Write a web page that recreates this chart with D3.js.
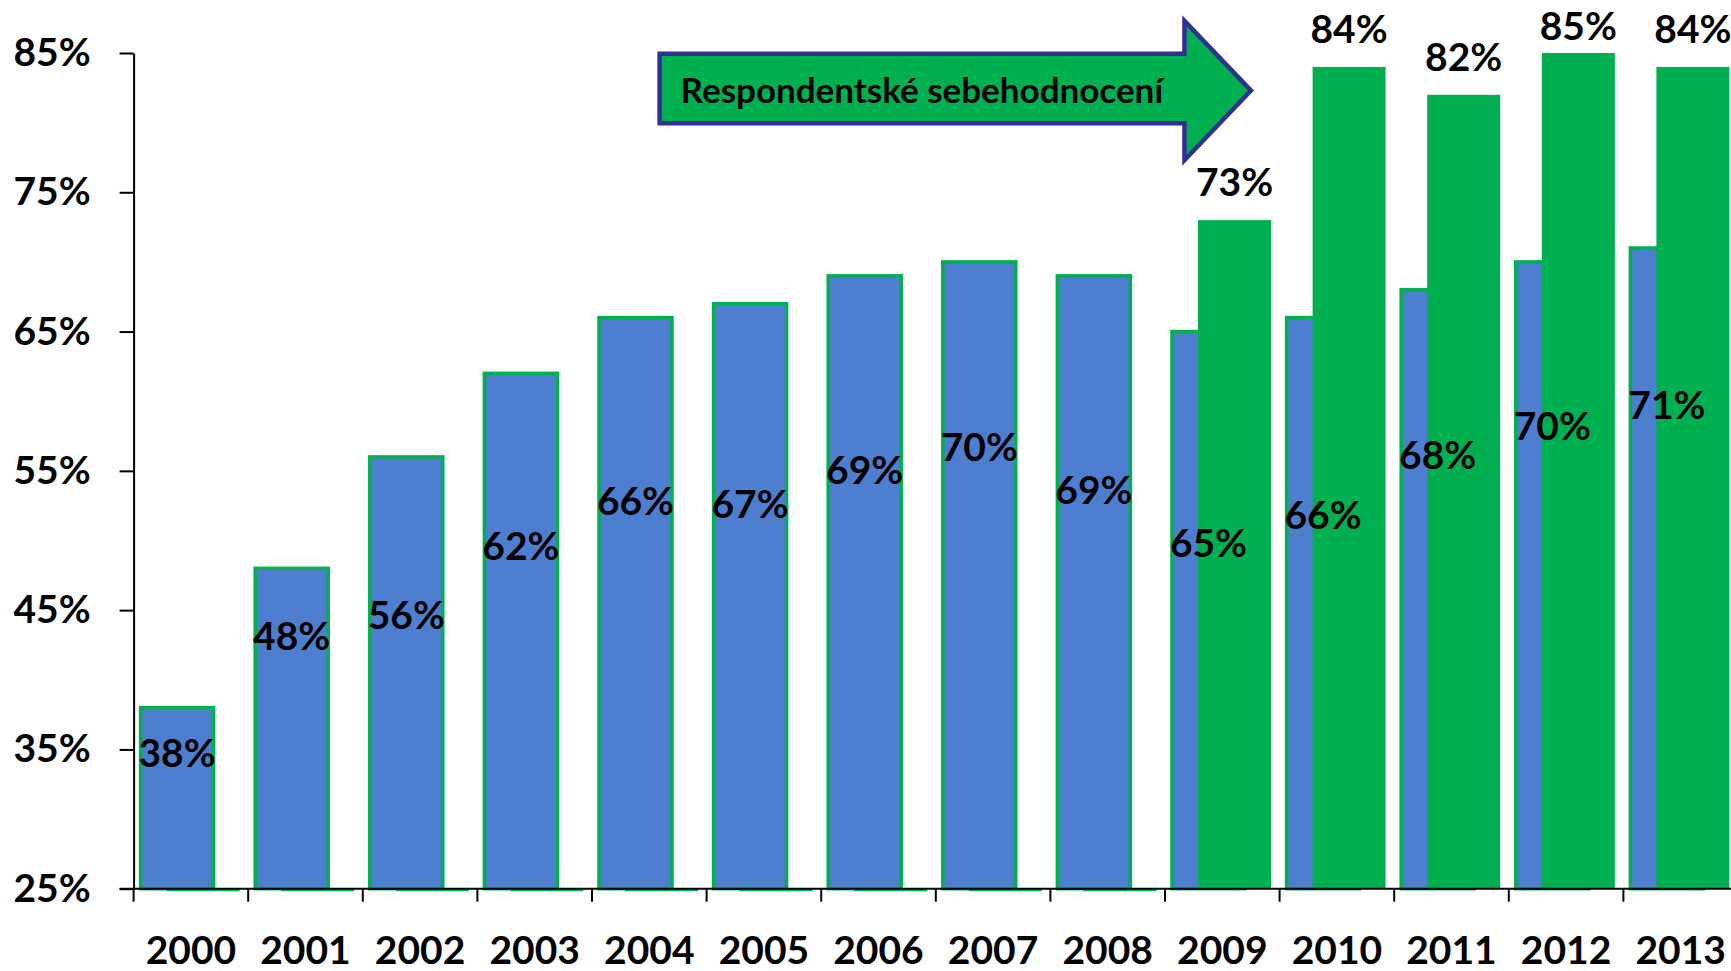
<!DOCTYPE html>
<html>
<head>
<meta charset="utf-8">
<script src="https://cdn.jsdelivr.net/npm/d3@7"></script>
<style>
  body { margin: 0; background: #fff; overflow: hidden; }
  text { font-family: Lato, "Open Sans", sans-serif; font-weight: bold; fill: #000; }
</style>
</head>
<body>
<div id="chart"></div>
<script>
// Data
const years = ["2000","2001","2002","2003","2004","2005","2006","2007","2008","2009","2010","2011","2012","2013"];
const blueValues = [38, 48, 56, 62, 66, 67, 69, 70, 69, 65, 66, 68, 70, 71];
const greenValues = [null, null, null, null, null, null, null, null, null, 73, 84, 82, 85, 84];
// where the blue value labels sit (in % on the y axis)
const blueLabelAt = [34.8, 43.2, 44.7, 49.7, 52.9, 52.7, 55.1, 56.8, 53.7, 49.9, 51.9, 56.2, 58.3, 59.8];
const yTicks = [25, 35, 45, 55, 65, 75, 85];
const arrowText = "Respondentské sebehodnocení";

const width = 1731, height = 971;
const plotLeft = 133.6, plotBottom = 888.7, plotTop = 53;
const blue = "#4e7ed0", green = "#00b050";

const svg = d3.select("#chart").append("svg")
    .attr("width", width)
    .attr("height", height);

const x = d3.scaleBand()
    .domain(years)
    .range([plotLeft, plotLeft + 114.6 * years.length]);
const bw = x.bandwidth();

const y = d3.scaleLinear()
    .domain([25, 85])
    .range([plotBottom, plotTop]);

// blue bars (green outline)
svg.selectAll(".blue")
    .data(blueValues)
    .enter().append("rect")
    .attr("class", "blue")
    .attr("x", (d, i) => x(years[i]) + bw * 0.061)
    .attr("width", bw * 0.637)
    .attr("y", d => y(d))
    .attr("height", d => y(25) - y(d))
    .attr("fill", blue)
    .attr("stroke", green)
    .attr("stroke-width", 3.5);

// green bars
svg.selectAll(".green")
    .data(greenValues)
    .enter().append("rect")
    .attr("class", "green")
    .attr("x", (d, i) => x(years[i]) + bw * 0.288)
    .attr("width", bw * 0.637)
    .attr("y", d => y(d == null ? 25 : d))
    .attr("height", d => d == null ? 0 : y(25) - y(d))
    .attr("fill", green);

// empty green values leave a flat line on the baseline
svg.selectAll(".green-flat")
    .data(greenValues.map((d, i) => ({ d, i })).filter(o => o.d == null))
    .enter().append("line")
    .attr("x1", o => x(years[o.i]) + bw * 0.288)
    .attr("x2", o => x(years[o.i]) + bw * 0.925)
    .attr("y1", y(25) + 1.5)
    .attr("y2", y(25) + 1.5)
    .attr("stroke", green)
    .attr("stroke-width", 2);

// y axis
const yAxis = svg.append("g")
    .attr("transform", `translate(${plotLeft},0)`)
    .call(d3.axisLeft(y).tickValues(yTicks).tickSize(14).tickSizeOuter(0).tickPadding(29)
        .tickFormat(d => d + "%"));
yAxis.select(".domain").attr("stroke", "#000").attr("stroke-width", 2);
yAxis.selectAll(".tick line").attr("stroke", "#000").attr("stroke-width", 2);
yAxis.selectAll(".tick text").style("font-size", "39px").attr("fill", "#000");

// x axis line and ticks at the band edges
svg.append("line")
    .attr("x1", plotLeft - 14).attr("x2", width)
    .attr("y1", plotBottom).attr("y2", plotBottom)
    .attr("stroke", "#000").attr("stroke-width", 2);
svg.selectAll(".xtick")
    .data(years)
    .enter().append("line")
    .attr("x1", d => x(d)).attr("x2", d => x(d))
    .attr("y1", plotBottom).attr("y2", plotBottom + 13)
    .attr("stroke", "#000").attr("stroke-width", 2);
svg.selectAll(".year")
    .data(years)
    .enter().append("text")
    .attr("x", d => x(d) + bw / 2)
    .attr("y", 949)
    .attr("text-anchor", "middle")
    .attr("dominant-baseline", "central")
    .style("font-size", "39px")
    .text(d => d);

// arrow annotation
const ax0 = x("2004") + bw * 0.59, ax1 = x("2009") + bw * 0.17, atip = x("2009") + bw * 0.75;
const arrow = [
    [ax0, y(84.95)], [ax1, y(84.95)], [ax1, y(87.3)], [atip, y(82.3)],
    [ax1, y(77.3)], [ax1, y(79.95)], [ax0, y(79.95)]
];
svg.append("path")
    .attr("d", d3.line()(arrow) + "Z")
    .attr("fill", green)
    .attr("stroke", "#2e3192")
    .attr("stroke-width", 4.5)
    .attr("stroke-linejoin", "miter");
svg.append("text")
    .attr("x", ax0 + 21)
    .attr("y", y(82.45))
    .attr("dominant-baseline", "central")
    .style("font-size", "35px")
    .text(arrowText);

// blue value labels
svg.selectAll(".blabel")
    .data(blueValues)
    .enter().append("text")
    .attr("x", (d, i) => x(years[i]) + bw * (0.061 + 0.637 / 2))
    .attr("y", (d, i) => y(blueLabelAt[i]))
    .attr("text-anchor", "middle")
    .attr("dominant-baseline", "central")
    .style("font-size", "39px")
    .text(d => d + "%");

// green value labels above the bars
svg.selectAll(".glabel")
    .data(greenValues.map((d, i) => ({ d, i })).filter(o => o.d != null))
    .enter().append("text")
    .attr("x", o => x(years[o.i]) + bw * (0.288 + 0.637 / 2))
    .attr("y", o => Math.max(y(o.d) - 24, 40))
    .attr("text-anchor", "middle")
    .style("font-size", "39px")
    .text(o => o.d + "%");
</script>
</body>
</html>
